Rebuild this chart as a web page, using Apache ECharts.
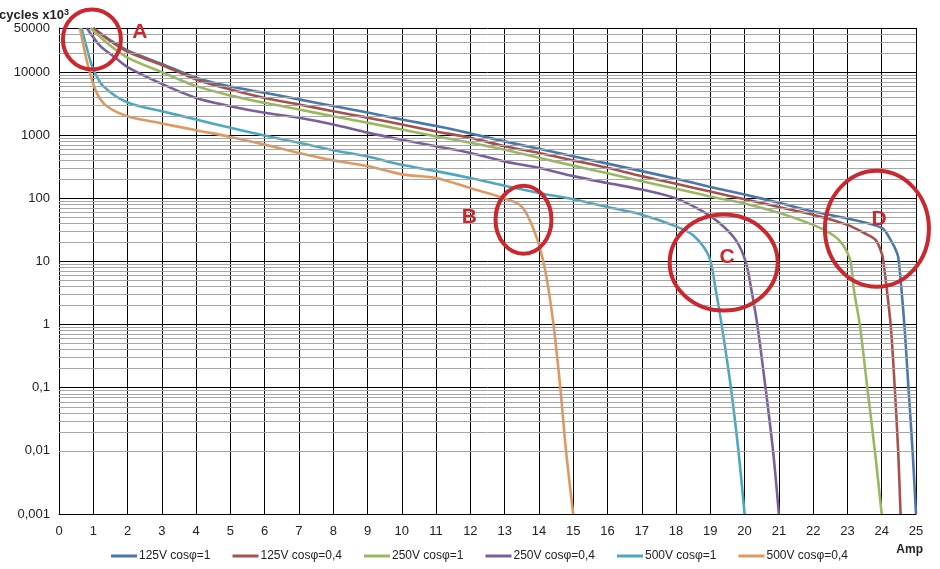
<!DOCTYPE html>
<html><head><meta charset="utf-8">
<script src="https://cdn.jsdelivr.net/npm/echarts@6/dist/echarts.min.js"></script>
<style>html,body{margin:0;padding:0;background:#fff}#c{width:940px;height:569px}</style>
</head><body><div id="c"></div>
<script>
// ---- data (Amp, cycles x10^3) ----
const seriesNames = ['125V cosφ=1', '125V cosφ=0,4', '250V cosφ=1', '250V cosφ=0,4', '500V cosφ=1', '500V cosφ=0,4'];

const s125V_cos1 = [[1.0,50000],[1.5,32000],[2,22000],[3,13500],[4,8150],[5,5900],[6,4700],[7,3700],[8,2900],[9,2300],[10,1780],[11,1400],[12,1070],[13,800],[14,610],[15,465],[16,355],[17,270],[18,205],[19,152],[20,115],[21,85],[22,62],[23,48],[24,34],[24.26,22],[24.45,13.5],[24.5,10],[24.66,1],[24.78,0.1],[24.9,0.01],[25,0.001]];
const s125V_cos04 = [[1.0,50000],[1.5,31000],[2,21000],[3,13000],[4,7660],[5,5300],[6,3900],[7,3070],[8,2400],[9,1900],[10,1480],[11,1150],[12,910],[13,670],[14,525],[15,400],[16,305],[17,225],[18,170],[19,128],[20,97],[21,73],[22,55],[23,38],[23.5,28],[23.82,22],[24.0,13.5],[24.05,10],[24.26,1],[24.38,0.1],[24.48,0.01],[24.55,0.001]];
const s250V_cos1 = [[0.92,50000],[1.4,29000],[2,17000],[3,10000],[4,6000],[5,4270],[6,3260],[7,2560],[8,2000],[9,1580],[10,1230],[11,960],[12,760],[13,590],[14,440],[15,330],[16,250],[17,187],[18,142],[19,107],[20,83],[21,59],[22,38],[22.5,28],[22.75,22],[22.95,15.5],[23.09,10],[23.19,3.5],[23.36,1],[23.58,0.1],[23.8,0.01],[24,0.001]];
const s250V_cos04 = [[0.81,50000],[1.2,26000],[1.58,18000],[2,12000],[3,6500],[4,3900],[5,2890],[6,2270],[7,1890],[8,1480],[9,1100],[10,850],[11,670],[12,525],[13,385],[14,305],[15,225],[16,175],[17,138],[18,100],[18.78,62],[19.26,41],[19.74,22],[20.03,10],[20.2,3.5],[20.37,1],[20.61,0.1],[20.83,0.01],[21,0.001]];
const s500V_cos1 = [[0.66,50000],[0.9,16000],[1.0,11000],[1.29,6000],[2,3300],[3,2400],[4,1780],[5,1310],[6,990],[7,760],[8,580],[9,460],[10,340],[11,270],[12,210],[13,158],[14,122],[15,97],[16,73],[17,55],[18,36],[18.5,26],[18.96,12],[19.16,3.5],[19.33,1],[19.6,0.1],[19.82,0.01],[20,0.001]];
const s500V_cos04 = [[0.61,50000],[0.76,20000],[0.9,9800],[1.1,4700],[1.39,2900],[2,2000],[3,1540],[4,1200],[5,940],[6,710],[7,525],[8,400],[9,325],[10,240],[11,210],[12,145],[13,100],[13.5,74],[13.89,28],[14.18,7.4],[14.42,1.05],[14.62,0.105],[14.79,0.0102],[15,0.001]];

const seriesData = [s125V_cos1, s125V_cos04, s250V_cos1, s250V_cos04, s500V_cos1, s500V_cos04];

// axes
const xMin = 0, xMax = 25, xStep = 1;
const yMin = 0.001, yMax = 50000;
const minorMultipliers = [2,3,4,5,6,7,8,9];
const decades = [0.001,0.01,0.1,1,10,100,1000,10000];

// annotations (label, circle centre in data coords, letter position in data coords)
const annotations = [
  {letter:'A', circle:[0.96,33000], letterAt:[2.36,42700], rx:29, ry:30},
  {letter:'B', circle:[13.55,46],  letterAt:[11.97,51],   rx:28, ry:34},
  {letter:'C', circle:[19.39,9.6], letterAt:[19.49,11.9], rx:54, ry:48},
  {letter:'D', circle:[23.86,33],  letterAt:[23.92,46],   rx:52, ry:58}
];

// ---- styles ----
const colors = ['#4A78AC','#A8504C','#98B95C','#7A5F9C','#4BA8C0','#E0985C'];
const FONT = 'Liberation Sans, Arial, sans-serif';

const minorValues = [];
decades.forEach(d => minorMultipliers.forEach(m => { const v = d*m; if (v < yMax) minorValues.push(+v.toPrecision(3)); }));

const chart = echarts.init(document.getElementById('c'));

const series = seriesData.map((d, i) => ({
  name: seriesNames[i], type: 'line', data: d, smooth: 0.3,
  showSymbol: false, symbol: 'none', z: 3,
  lineStyle: {color: colors[i], width: 2.6}, itemStyle: {color: colors[i]}
}));
series.push({
  type: 'line', data: [], z: 1, silent: true,
  markLine: {silent: true, symbol: 'none', animation: false, label: {show: false},
    lineStyle: {color: '#a6a6a6', width: 1, type: 'solid'},
    data: minorValues.map(v => ({yAxis: v}))}
});

chart.setOption({
  animation: false,
  textStyle: {fontFamily: FONT},
  grid: {left: 59, right: 24, top: 28, bottom: 55},
  title: [
    {text: '{a|cycles x10}{s|3}', left: -6, top: 3,
     textStyle: {rich: {a: {fontSize: 13, fontWeight: 'bold', color: '#222', fontFamily: FONT},
                        s: {fontSize: 9, fontWeight: 'bold', color: '#222', verticalAlign: 'top', padding:[0,0,6,0], fontFamily: FONT}}}},
    {text: 'Amp', right: 12, top: 539, textStyle: {fontSize: 12, fontWeight: 'bold', color: '#222', fontFamily: FONT}}
  ],
  legend: {
    data: seriesNames, left: 106, top: 545, icon: 'rect', itemWidth: 26, itemHeight: 3, itemGap: 22,
    textStyle: {fontSize: 12, color: '#222', fontFamily: FONT, padding: [0,0,0,-3]}
  },
  xAxis: {
    type: 'value', min: xMin, max: xMax, interval: xStep,
    axisLine: {lineStyle: {color: '#000'}}, axisTick: {show: false},
    axisLabel: {color: '#222', fontSize: 13, margin: 11},
    splitLine: {lineStyle: {color: '#000', width: 1}}
  },
  yAxis: {
    type: 'log', logBase: 10, min: yMin, max: yMax,
    axisLine: {show: true, lineStyle: {color: '#000'}}, axisTick: {show: false},
    axisLabel: {color: '#222', fontSize: 13, margin: 9, formatter: v => String(v).replace('.', ',')},
    splitLine: {lineStyle: {color: '#000', width: 1}}
  },
  series: series
});

// annotation circles & letters positioned through the chart's own scales
const red = '#C9282E';
const graphics = [];
annotations.forEach(a => {
  const c = chart.convertToPixel({gridIndex: 0}, a.circle);
  const t = chart.convertToPixel({gridIndex: 0}, a.letterAt);
  graphics.push({type: 'ellipse', z: 100, silent: true, shape: {cx: c[0], cy: c[1], rx: a.rx, ry: a.ry},
    style: {fill: 'none', stroke: red, lineWidth: 4}});
  graphics.push({type: 'text', z: 101, silent: true, x: t[0], y: t[1],
    style: {text: a.letter, fill: red, font: 'bold 21px ' + FONT, align: 'center', verticalAlign: 'middle'}});
});
chart.setOption({graphic: graphics});
</script></body></html>
